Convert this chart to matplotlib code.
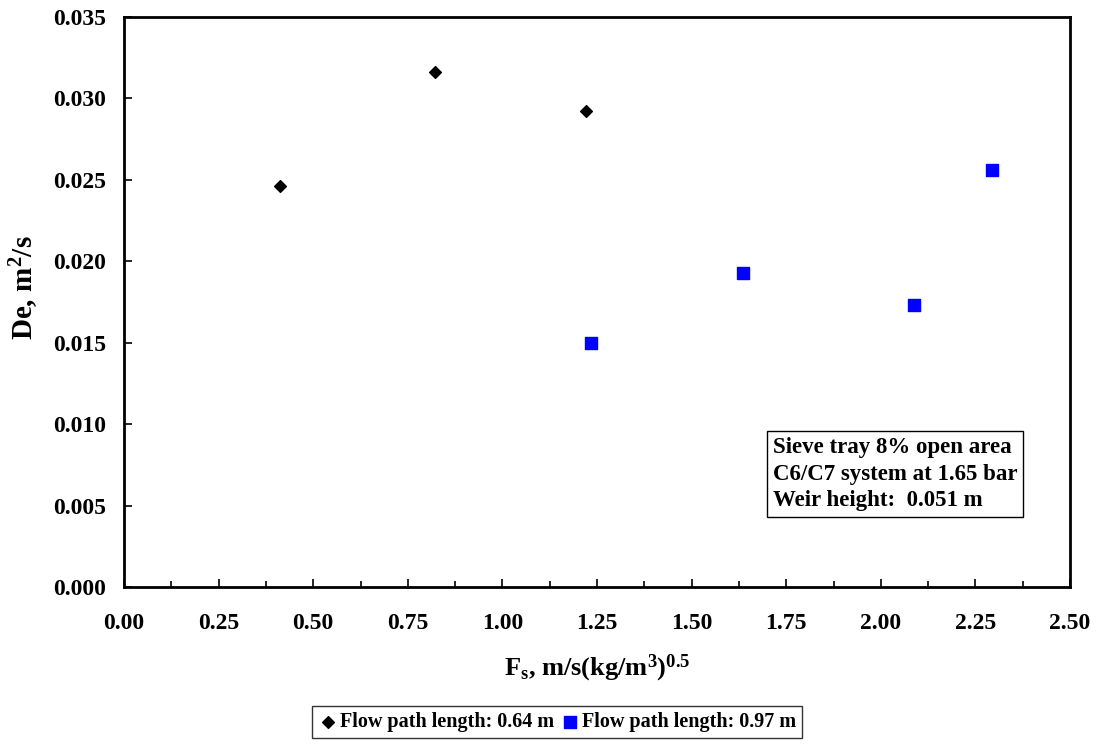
import numpy as np
import matplotlib.pyplot as plt
from matplotlib.ticker import MultipleLocator

# flow path 0.64 m
fs_064 = [0.413, 0.823, 1.220]
de_064 = [0.0246, 0.0316, 0.0292]
# flow path 0.97 m
fs_097 = [1.233, 1.635, 2.087, 2.294]
de_097 = [0.0150, 0.0193, 0.0173, 0.0256]

plt.rcParams['font.family'] = ['Liberation Serif', 'DejaVu Serif']
plt.rcParams['font.weight'] = 'bold'
plt.rcParams['mathtext.fontset'] = 'custom'
plt.rcParams['mathtext.rm'] = 'Liberation Serif:bold'
plt.rcParams['mathtext.bf'] = 'Liberation Serif:bold'
plt.rcParams['mathtext.it'] = 'Liberation Serif:bold'
plt.rcParams['mathtext.default'] = 'rm'

fig = plt.figure(figsize=(10.99, 7.44), dpi=100)
ax = fig.add_axes([124/1099, 1 - 587/744, (1070-124)/1099, (587-17)/744])

ax.scatter(fs_064, de_064, marker='D', s=36, color='black', label='Flow path length: 0.64 m', zorder=3)
ax.scatter(fs_097, de_097, marker='s', s=64, color='#0000FF', label='Flow path length: 0.97 m', zorder=3)

ax.set_xlim(0, 2.5)
ax.set_ylim(0, 0.035)
ax.xaxis.set_major_locator(MultipleLocator(0.25))
ax.xaxis.set_minor_locator(MultipleLocator(0.125))
ax.yaxis.set_major_locator(MultipleLocator(0.005))
ax.yaxis.set_minor_locator(plt.NullLocator())
ax.xaxis.set_major_formatter(plt.FormatStrFormatter('%.2f'))
ax.yaxis.set_major_formatter(plt.FormatStrFormatter('%.3f'))
ax.tick_params(which='major', direction='in', length=6, width=1.2, labelsize=17)
ax.tick_params(which='minor', direction='in', length=4, width=1.2)
ax.tick_params(axis='x', which='major', pad=19)
ax.tick_params(axis='y', which='major', pad=13)
for lab in ax.get_xticklabels() + ax.get_yticklabels():
    lab.set_fontweight('bold')
for sp in ax.spines.values():
    sp.set_linewidth(2)

ax.set_xlabel(r'F$_{s}$, m/s(kg/m$^{3}$)$^{0.5}$', fontsize=19, fontweight='bold', labelpad=13)
ax.set_ylabel(r'De, m$^{2}$/s', fontsize=21, fontweight='bold')
ax.yaxis.set_label_coords(-0.088, 0.525)

ax.text(0.686, 0.263, 'Sieve tray 8% open area\nC6/C7 system at 1.65 bar\nWeir height:  0.051 m',
        transform=ax.transAxes, fontsize=16.5, fontweight='bold', va='top', ha='left', linespacing=1.35,
        bbox=dict(boxstyle='square,pad=0.25', facecolor='white', edgecolor='black', linewidth=1))

leg = fig.legend(loc='center', bbox_to_anchor=(557/1099, 1 - 722/744), ncol=2, fontsize=14.5,
                 frameon=True, fancybox=False, edgecolor='black', handletextpad=0.1,
                 columnspacing=0.3, borderpad=0.3, handlelength=1, markerscale=1.0)
leg.get_frame().set_linewidth(1)
for t in leg.get_texts():
    t.set_fontweight('bold')

fig.savefig('out.png', dpi=100)
